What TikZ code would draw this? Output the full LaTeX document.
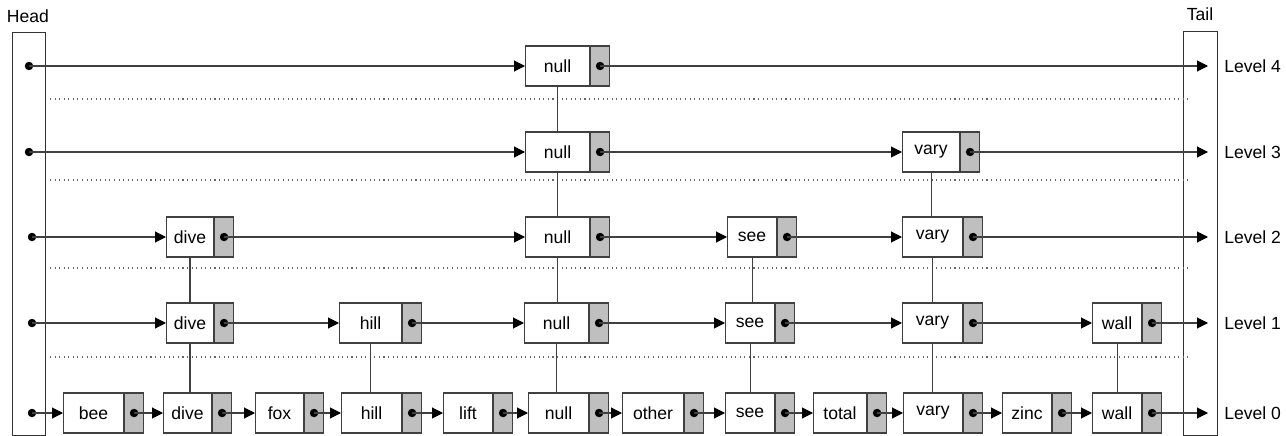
\documentclass[tikz,border=0pt]{standalone}
\usepackage{fontspec}
\setmainfont{Liberation Sans}
\usetikzlibrary{arrows.meta}
\tikzset{
  key/.style={draw=black!75, fill=white, minimum height=0.8cm, inner sep=0pt, anchor=west},
  ptr/.style={draw=black!75, fill=black!25, minimum width=0.38cm, minimum height=0.8cm, inner sep=0pt, anchor=west},
  link/.style={draw=black!75, -{Triangle[length=0.22cm,width=0.22cm,black]}},
  down/.style={draw=black!75},
  sep/.style={draw=black!60, dotted},
  endbox/.style={draw=black!80, anchor=north west, inner sep=0pt},
}
% skip list node: white key part, gray pointer part with a dot
\newcommand{\sknode}[5]{%
  \node[key, minimum width=#4cm] (#1) at (#2,#3) {#5};
  \node[ptr] (#1p) at (#1.east) {};
  \fill (#1p.center) circle (0.085cm);
}
\begin{document}
\begin{tikzpicture}[x=0.02cm,y=-0.02cm,font=\fontsize{10}{12}\selectfont,line width=0.6pt]
\useasboundingbox (0,0) rectangle (1286,436);
% head and tail
\node[endbox, minimum width=0.66cm, minimum height=8.06cm] (head) at (12,32) {};
\node[endbox, minimum width=0.68cm, minimum height=8.08cm] (tail) at (1183,31) {};
\node (headlbl) at (28,16) {Head};
\node (taillbl) at (1200,14) {Tail};
% separators
\draw[sep] (50,99) -- (1188,99);
\draw[sep] (50,180) -- (1188,180);
\draw[sep] (50,268) -- (1188,268);
\draw[sep] (50,357) -- (1188,357);
% head pointers and tail ends
\coordinate (h4) at (29,66);  \coordinate (t4) at (1208,66);
\coordinate (h3) at (29,152); \coordinate (t3) at (1208,152);
\coordinate (h2) at (32,237); \coordinate (t2) at (1208,237);
\coordinate (h1) at (32,323); \coordinate (t1) at (1208,323);
\coordinate (h0) at (32,413); \coordinate (t0) at (1208,413);
\foreach \l in {4,3,2,1,0} {
  \fill (h\l) circle (0.085cm);
}
\node[anchor=west] (lv4) at (1218,66) {Level 4};
\node[anchor=west] (lv3) at (1218,152) {Level 3};
\node[anchor=west] (lv2) at (1218,237) {Level 2};
\node[anchor=west] (lv1) at (1218,323) {Level 1};
\node[anchor=west] (lv0) at (1218,413) {Level 0};
% level 4
\sknode{null4}{525}{66}{1.28}{null}
% level 3
\sknode{null3}{525}{152}{1.28}{null}
\sknode{vary3}{902}{152}{1.14}{vary}
% level 2
\sknode{dive2}{166}{237}{0.94}{dive}
\sknode{null2}{525}{237}{1.28}{null}
\sknode{see2}{727}{237}{0.98}{see}
\sknode{vary2}{902}{237}{1.2}{vary}
% level 1
\sknode{dive1}{166}{323}{0.94}{dive}
\sknode{hill1}{339}{323}{1.24}{hill}
\sknode{null1}{524}{323}{1.28}{null}
\sknode{see1}{725}{323}{0.98}{see}
\sknode{vary1}{902}{323}{1.2}{vary}
\sknode{wall1}{1092}{323}{0.98}{wall}
% level 0
\sknode{bee0}{63}{413}{1.2}{bee}
\sknode{dive0}{163}{413}{0.96}{dive}
\sknode{fox0}{255}{413}{0.96}{fox}
\sknode{hill0}{341}{413}{1.2}{hill}
\sknode{lift0}{443}{413}{0.98}{lift}
\sknode{null0}{528}{413}{1.2}{null}
\sknode{other0}{622}{413}{1.22}{other}
\sknode{see0}{725}{413}{0.98}{see}
\sknode{total0}{813}{413}{1.06}{total}
\sknode{vary0}{903}{413}{1.18}{vary}
\sknode{zinc0}{1002}{413}{0.98}{zinc}
\sknode{wall0}{1092}{413}{0.98}{wall}
% forward links
\draw[link] (h4) -- (null4.west);
\draw[link] (null4p.center) -- (t4);
\draw[link] (h3) -- (null3.west);
\draw[link] (null3p.center) -- (vary3.west);
\draw[link] (vary3p.center) -- (t3);
\draw[link] (h2) -- (dive2.west);
\draw[link] (dive2p.center) -- (null2.west);
\draw[link] (null2p.center) -- (see2.west);
\draw[link] (see2p.center) -- (vary2.west);
\draw[link] (vary2p.center) -- (t2);
\draw[link] (h1) -- (dive1.west);
\draw[link] (dive1p.center) -- (hill1.west);
\draw[link] (hill1p.center) -- (null1.west);
\draw[link] (null1p.center) -- (see1.west);
\draw[link] (see1p.center) -- (vary1.west);
\draw[link] (vary1p.center) -- (wall1.west);
\draw[link] (wall1p.center) -- (t1);
\draw[link] (h0) -- (bee0.west);
\draw[link] (bee0p.center) -- (dive0.west);
\draw[link] (dive0p.center) -- (fox0.west);
\draw[link] (fox0p.center) -- (hill0.west);
\draw[link] (hill0p.center) -- (lift0.west);
\draw[link] (lift0p.center) -- (null0.west);
\draw[link] (null0p.center) -- (other0.west);
\draw[link] (other0p.center) -- (see0.west);
\draw[link] (see0p.center) -- (total0.west);
\draw[link] (total0p.center) -- (vary0.west);
\draw[link] (vary0p.center) -- (zinc0.west);
\draw[link] (zinc0p.center) -- (wall0.west);
\draw[link] (wall0p.center) -- (t0);
% towers
\draw[down] (null4.south) -- (null4.south |- null3.north);
\draw[down] (null3.south) -- (null3.south |- null2.north);
\draw[down] (null2.south) -- (null2.south |- null1.north);
\draw[down] (null1.south) -- (null1.south |- null0.north);
\draw[down] (vary3.south) -- (vary3.south |- vary2.north);
\draw[down] (vary2.south) -- (vary2.south |- vary1.north);
\draw[down] (vary1.south) -- (vary1.south |- vary0.north);
\draw[down] (dive2.south) -- (dive2.south |- dive1.north);
\draw[down] (dive1.south) -- (dive1.south |- dive0.north);
\draw[down] (see2.south) -- (see2.south |- see1.north);
\draw[down] (see1.south) -- (see1.south |- see0.north);
\draw[down] (hill1.south) -- (hill1.south |- hill0.north);
\draw[down] (wall1.south) -- (wall1.south |- wall0.north);
\end{tikzpicture}
\end{document}
